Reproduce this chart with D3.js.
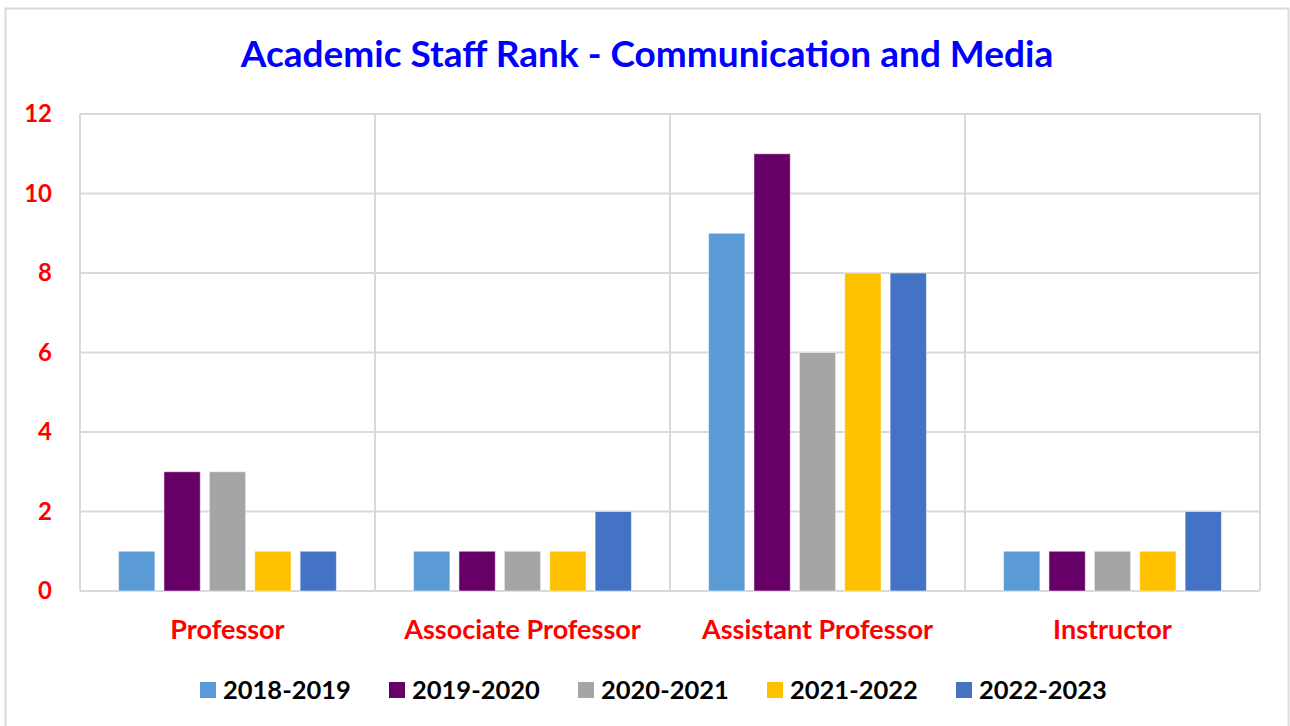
<!DOCTYPE html>
<html>
<head>
<meta charset="utf-8">
<script src="https://cdn.jsdelivr.net/npm/d3@7"></script>
<style>
  body { margin: 0; background: #fff; font-family: Lato, "Open Sans", sans-serif; }
</style>
</head>
<body>
<div id="chart"></div>
<script>
// chart data
var categories = ["Professor", "Associate Professor", "Assistant Professor", "Instructor"];
var seriesNames = ["2018-2019", "2019-2020", "2020-2021", "2021-2022", "2022-2023"];
var s2018 = [1, 1, 9, 1];
var s2019 = [3, 1, 11, 1];
var s2020 = [3, 1, 6, 1];
var s2021 = [1, 1, 8, 1];
var s2022 = [1, 2, 8, 2];
var yTicks = [0, 2, 4, 6, 8, 10, 12];
var colors = ["#5B9BD5", "#660066", "#A5A5A5", "#FFC000", "#4472C4"];

var seriesValues = [s2018, s2019, s2020, s2021, s2022];

var W = 1290, H = 726;
var margin = { top: 114, right: 30, bottom: 135, left: 80 };
var w = W - margin.left - margin.right;
var h = H - margin.top - margin.bottom;

var svg = d3.select("#chart").append("svg")
  .attr("width", W).attr("height", H);

// outer frame
svg.append("rect")
  .attr("x", 5.5).attr("y", 8.5)
  .attr("width", 1283).attr("height", 730)
  .attr("fill", "#fff").attr("stroke", "#d9d9d9").attr("stroke-width", 2);

svg.append("text")
  .attr("x", 647).attr("y", 67)
  .attr("text-anchor", "middle")
  .attr("font-size", "37px").attr("font-weight", "bold")
  .attr("fill", "#0000ff")
  .text("Academic Staff Rank - Communication and Media");

var g = svg.append("g").attr("transform", "translate(" + margin.left + "," + margin.top + ")");

var x0 = d3.scaleBand().domain(categories).range([0, w]).paddingInner(0).paddingOuter(0);
var x1 = d3.scaleBand().domain(seriesNames).range([0, x0.bandwidth()]).paddingInner(0.2).paddingOuter(0.85);
var y = d3.scaleLinear().domain([0, 12]).range([h, 0]);

// gridlines
g.selectAll(".grid").data(yTicks).enter().append("line")
  .attr("x1", 0).attr("x2", w)
  .attr("y1", function(d) { return y(d); }).attr("y2", function(d) { return y(d); })
  .attr("stroke", "#d9d9d9").attr("stroke-width", 2);

// category separators
var seps = [0].concat(categories.map(function(c) { return x0(c) + x0.bandwidth(); }));
g.selectAll(".sep").data(seps).enter().append("line")
  .attr("x1", function(d) { return d; }).attr("x2", function(d) { return d; })
  .attr("y1", 0).attr("y2", h)
  .attr("stroke", "#d9d9d9").attr("stroke-width", 2);

// bars
seriesValues.forEach(function(vals, si) {
  g.selectAll(".bar" + si).data(vals).enter().append("rect")
    .attr("x", function(d, i) { return x0(categories[i]) + x1(seriesNames[si]); })
    .attr("y", function(d) { return y(d); })
    .attr("width", x1.bandwidth())
    .attr("height", function(d) { return h - y(d); })
    .attr("fill", colors[si])
    .attr("stroke", "#fff").attr("stroke-opacity", 0.5).attr("stroke-width", 1);
});

// y axis
var yAxis = d3.axisLeft(y).tickValues(yTicks).tickSize(0).tickPadding(28);
g.append("g").call(yAxis)
  .call(function(s) { s.select(".domain").remove(); })
  .selectAll("text")
  .attr("fill", "#ff0000").attr("font-size", "24px").attr("font-weight", "bold")
  .attr("font-family", "Lato, sans-serif");

// x axis
var xAxis = d3.axisBottom(x0).tickSize(0).tickPadding(29);
g.append("g").attr("transform", "translate(0," + h + ")").call(xAxis)
  .call(function(s) { s.select(".domain").remove(); })
  .selectAll("text")
  .attr("fill", "#ff0000").attr("font-size", "27px").attr("font-weight", "bold")
  .attr("font-family", "Lato, sans-serif");

// legend
var legend = svg.append("g").attr("transform", "translate(200,682)");
var item = legend.selectAll("g").data(seriesNames).enter().append("g")
  .attr("transform", function(d, i) { return "translate(" + (i * 189) + ",0)"; });
item.append("rect").attr("width", 16).attr("height", 16)
  .attr("fill", function(d, i) { return colors[i]; });
item.append("text").attr("x", 23).attr("y", 17)
  .attr("font-size", "25.5px").attr("font-weight", "bold").attr("fill", "#000")
  .text(function(d) { return d; });
</script>
</body>
</html>
